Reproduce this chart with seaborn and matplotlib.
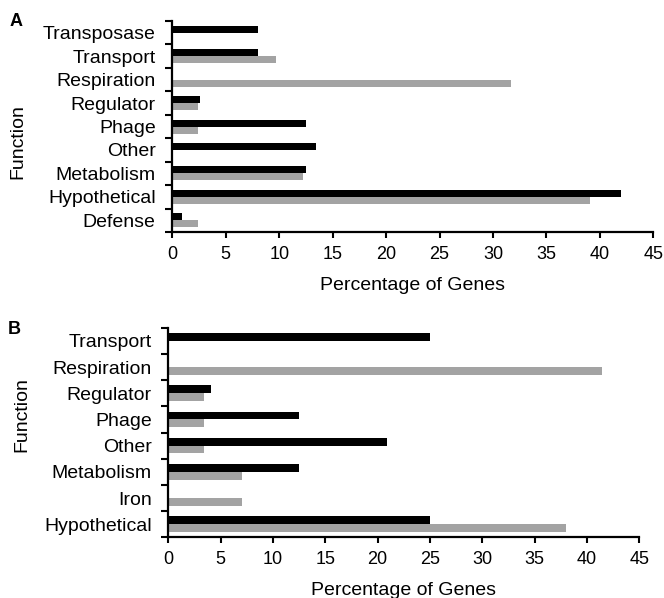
import pandas as pd
import seaborn as sns
import numpy as np
import matplotlib.pyplot as plt
from matplotlib.ticker import FixedLocator

# %%
# Panel A values (percentage of genes)
funcs_a = ['Transposase', 'Transport', 'Respiration', 'Regulator', 'Phage',
           'Other', 'Metabolism', 'Hypothetical', 'Defense']
black_a = [8.0, 8.0, 0.0, 2.6, 12.5, 13.4, 12.5, 42.0, 0.9]
gray_a = [0.0, 9.7, 31.7, 2.4, 2.4, 0.0, 12.2, 39.1, 2.4]

# Panel B values
funcs_b = ['Transport', 'Respiration', 'Regulator', 'Phage', 'Other',
           'Metabolism', 'Iron', 'Hypothetical']
black_b = [25.0, 0.0, 4.1, 12.5, 20.9, 12.5, 0.0, 25.0]
gray_b = [0.0, 41.4, 3.4, 3.4, 3.4, 7.0, 7.0, 38.0]

xticks = list(range(0, 50, 5))

# %%
sns.set_theme(style='ticks')
plt.rcParams['font.family'] = ['Liberation Sans', 'DejaVu Sans']
# plain black text like the original figure
plt.rcParams['text.color'] = 'black'
plt.rcParams['axes.labelcolor'] = 'black'
plt.rcParams['xtick.color'] = 'black'
plt.rcParams['ytick.color'] = 'black'

pal = {'Set 1': 'black', 'Set 2': '#a3a3a3'}


def make_df(funcs, b, g):
    df = pd.DataFrame({'Function': funcs, 'Set 1': b, 'Set 2': g})
    return df.melt(id_vars='Function', var_name='set', value_name='pct')


def draw_panel(ax, funcs, b, g, ylab_xy):
    mdf = make_df(funcs, b, g)
    sns.barplot(data=mdf, y='Function', x='pct', hue='set', palette=pal,
                order=funcs, hue_order=['Set 1', 'Set 2'], orient='y',
                width=0.6, linewidth=0, legend=False, ax=ax)
    n = len(funcs)
    ax.set_xlim(0, 45)
    ax.set_ylim(n - 0.5, -0.5)
    ax.set_xticks(xticks)
    ax.set_xticklabels([str(t) for t in xticks], fontsize=13)
    ax.set_xlabel('Percentage of Genes', fontsize=14, labelpad=10)
    ax.set_ylabel('Function', fontsize=14)
    ax.yaxis.set_label_coords(*ylab_xy)
    ax.tick_params(axis='y', which='major', length=0, pad=12, labelsize=14)
    ax.yaxis.set_minor_locator(FixedLocator(np.arange(-0.5, n, 1.0)))
    ax.tick_params(axis='y', which='minor', length=5, width=1.5,
                   direction='out', color='black')
    ax.tick_params(axis='x', which='major', length=4, width=1.5,
                   direction='out', color='black', pad=6)
    for s in ['left', 'bottom']:
        ax.spines[s].set_linewidth(1.6)
        ax.spines[s].set_color('black')
    sns.despine(ax=ax)


fig = plt.figure(figsize=(6.64, 5.98), dpi=100)
ax1 = fig.add_axes([0.2595, 0.612, 0.7244, 0.3528])
ax2 = fig.add_axes([0.2535, 0.1015, 0.7093, 0.3505])

draw_panel(ax1, funcs_a, black_a, gray_a, (-0.304, 0.427))
draw_panel(ax2, funcs_b, black_b, gray_b, (-0.292, 0.584))

# panel letters
fig.text(16 / 664, 1 - 21 / 598, 'A', fontsize=13, fontweight='bold',
         ha='center', va='center')
fig.text(14 / 664, 1 - 330 / 598, 'B', fontsize=13, fontweight='bold',
         ha='center', va='center')

fig.savefig('out.png', dpi=100)
